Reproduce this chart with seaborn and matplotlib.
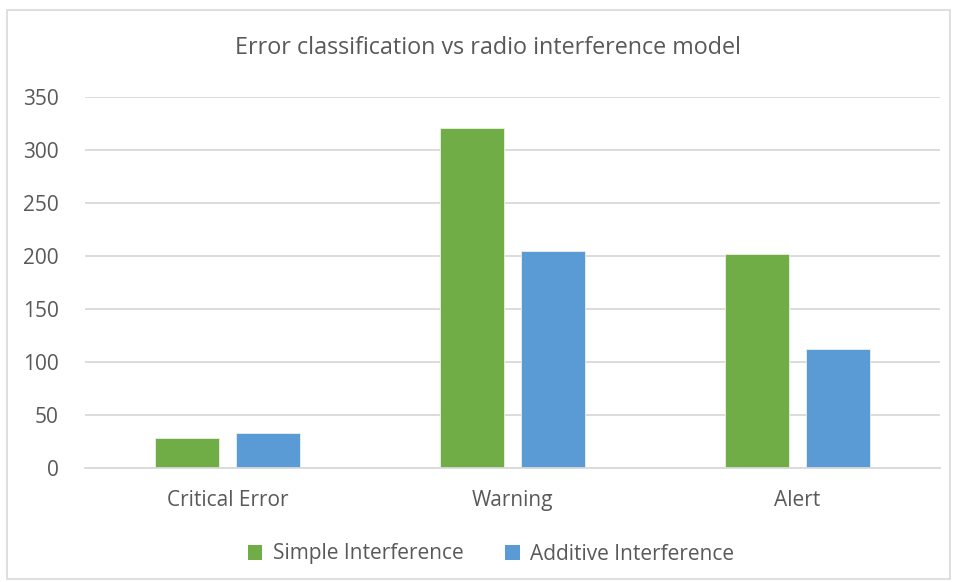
import matplotlib
matplotlib.use("Agg")
import matplotlib.pyplot as plt
import seaborn as sns
import pandas as pd
from matplotlib.patches import Rectangle, Patch

categories = ["Critical Error", "Warning", "Alert"]
simple_values = [28, 321, 202]
additive_values = [33, 205, 112]
series_names = ["Simple Interference", "Additive Interference"]
yticks = [0, 50, 100, 150, 200, 250, 300, 350]

df = pd.DataFrame({
    "category": categories * 2,
    "series": [series_names[0]] * 3 + [series_names[1]] * 3,
    "value": simple_values + additive_values,
})

sns.set_theme(style="white")
plt.rcParams["font.family"] = ["Open Sans", "DejaVu Sans"]

colors = ["#70AD47", "#5B9BD5"]
text_color = "#595959"

fig = plt.figure(figsize=(9.58, 5.82), dpi=100)
ax = fig.add_axes([85 / 958, 1 - 468 / 582, (940 - 85) / 958, (468 - 97) / 582])

sns.barplot(data=df, x="category", y="value", hue="series", order=categories,
            hue_order=series_names, palette=colors, width=0.568, gap=0.21,
            saturation=1, ax=ax, legend=False, linewidth=0.6, edgecolor="#EAF2E4")

ax.set_ylim(0, 350)
ax.set_xlim(-0.5, 2.5)
ax.set_yticks(yticks)
ax.set_yticklabels([str(v) for v in yticks])
ax.yaxis.grid(True, color="#D9D9D9", linewidth=1.3)
ax.set_axisbelow(True)
for s in ["top", "right", "left"]:
    ax.spines[s].set_visible(False)
ax.spines["bottom"].set_color("#D9D9D9")
ax.spines["bottom"].set_linewidth(1.3)
ax.tick_params(axis="both", length=0, labelsize=15, colors=text_color)
ax.tick_params(axis="y", pad=19)
ax.tick_params(axis="x", pad=16)
ax.set_xlabel("")
ax.set_ylabel("")

fig.text(488 / 958, 1 - 48 / 582, "Error classification vs radio interference model",
         ha="center", va="center", fontsize=16.8, color=text_color)

handles = [Patch(facecolor=c, edgecolor="none") for c in colors]
fig.legend(handles, series_names, loc="center", bbox_to_anchor=(491 / 958, 1 - 554 / 582),
           ncol=2, frameon=False, fontsize=15, labelcolor=text_color,
           handlelength=0.7, handleheight=0.7, handletextpad=0.5, columnspacing=2.0)

fig.patches.append(Rectangle((7 / 958, 1 - 579 / 582), (950 - 7) / 958, (579 - 10) / 582,
                             transform=fig.transFigure, fill=False,
                             edgecolor="#D9D9D9", linewidth=1.2))

fig.savefig("out.png", dpi=100, facecolor="white")
